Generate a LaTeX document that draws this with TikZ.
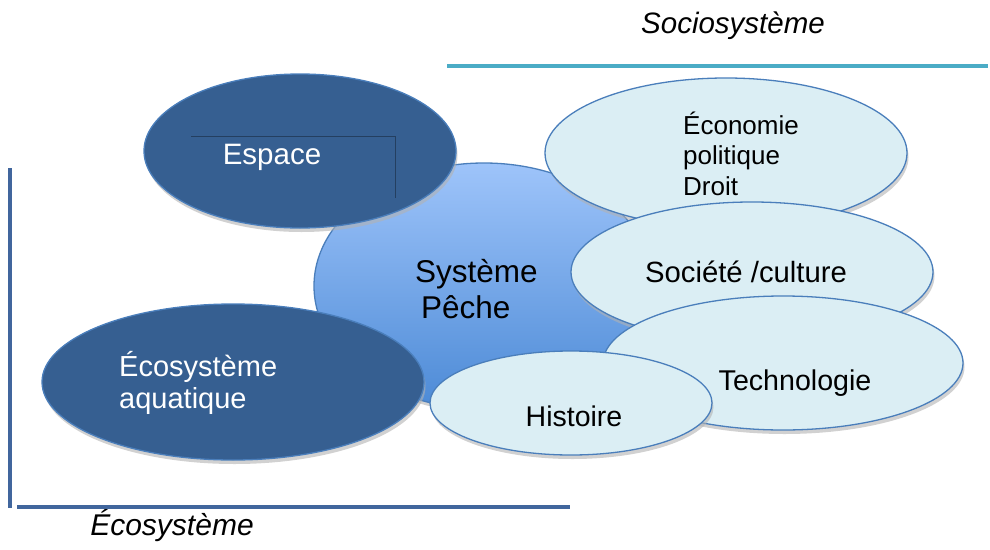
\documentclass[tikz,border=0pt]{standalone}
\usepackage{fontspec}
\setmainfont{Liberation Sans}
\usetikzlibrary{shapes.geometric,shadows}
\definecolor{ecoblue}{HTML}{365F91}
\definecolor{edgeblue}{HTML}{4A7EBB}
\definecolor{socioblue}{HTML}{DBEEF4}
\definecolor{coretop}{HTML}{9EC4FA}
\definecolor{corebottom}{HTML}{4C8AD6}
\definecolor{axisblue}{HTML}{41669D}
\definecolor{sociteal}{HTML}{4BACC6}
\definecolor{boxline}{HTML}{243F60}
\tikzset{
  bubble/.style={ellipse, draw=edgeblue, line width=1.3pt, inner sep=0pt,
    drop shadow={shadow xshift=1.5pt, shadow yshift=-4pt, fill=black!30, opacity=.6}},
  ecobubble/.style={bubble, fill=ecoblue},
  sociobubble/.style={bubble, fill=socioblue},
  corebubble/.style={bubble, top color=coretop, bottom color=corebottom},
  bubbletext/.style={inner sep=0pt, align=left},
  axisline/.style={line width=3.5pt},
  boxedge/.style={draw=boxline, line width=.8pt}
}

\begin{document}
\begin{tikzpicture}[x=1pt,y=-1pt]
\useasboundingbox (0,0) rectangle (990,549);

% Axes
\coordinate (socioL) at (447,66);
\coordinate (socioR) at (988,66);
\coordinate (ecoTop) at (10,168);
\coordinate (ecoBot) at (10,508);
\coordinate (ecoL) at (17,507);
\coordinate (ecoR) at (570,507);
\draw[axisline, sociteal] (socioL) -- (socioR);
\draw[axisline, axisblue] (ecoTop) -- (ecoBot);
\draw[axisline, axisblue] (ecoL) -- (ecoR);
\node[font=\fontsize{29.5}{34}\selectfont\itshape, anchor=base] (socio) at (733,33) {Sociosystème};
\node[font=\fontsize{30}{34}\selectfont\itshape, anchor=base] (ecosys) at (172,535) {Écosystème};

% Bubbles
\node[corebubble, minimum width=340pt, minimum height=246pt] (peche) at (484,286) {};
\node[ecobubble, minimum width=312pt, minimum height=154pt] (espace) at (300,151) {};
\node[ecobubble, minimum width=382pt, minimum height=156pt] (aqua) at (233,382) {};
\node[sociobubble, minimum width=362pt, minimum height=150pt] (economie) at (726,153) {};
\node[sociobubble, minimum width=362pt, minimum height=140pt] (societe) at (752,272) {};
\node[sociobubble, minimum width=360pt, minimum height=134pt] (techno) at (783,363) {};
\node[sociobubble, minimum width=282pt, minimum height=104pt] (histoire) at (571,403) {};

\draw[boxedge] (191,136) -| (395,198);

% Texts (base = baseline of the last line)
\node[bubbletext, font=\fontsize{31.5}{36}\selectfont, anchor=base west] (pecheTxt) at (415,318) {Système\\\hspace*{6pt}Pêche};
\node[bubbletext, font=\fontsize{29.5}{34}\selectfont, text=white, anchor=base] (espaceTxt) at (272,164) {Espace};
\node[bubbletext, font=\fontsize{29}{32}\selectfont, text=white, anchor=base west] (aquaTxt) at (119,408) {Écosystème\\aquatique};
\node[bubbletext, font=\fontsize{26}{30.5}\selectfont, anchor=base west] (economieTxt) at (683,195) {Économie\\politique\\Droit};
\node[bubbletext, font=\fontsize{29.3}{34}\selectfont, anchor=base] (societeTxt) at (746,282) {Société /culture};
\node[bubbletext, font=\fontsize{28.6}{34}\selectfont, anchor=base] (technoTxt) at (795,390) {Technologie};
\node[bubbletext, font=\fontsize{28.5}{34}\selectfont, anchor=base] (histoireTxt) at (574,426) {Histoire};

\end{tikzpicture}
\end{document}
